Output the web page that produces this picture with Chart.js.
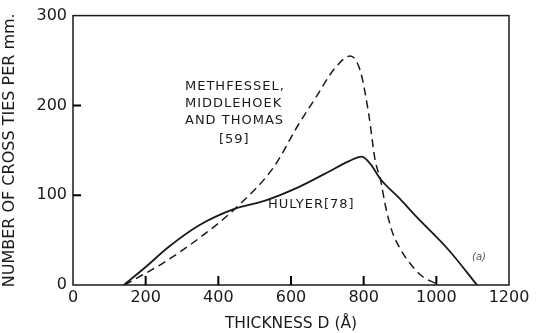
<!DOCTYPE html>
<html>
<head>
<meta charset="utf-8">
<script src="https://cdn.jsdelivr.net/npm/chart.js@4.4.1/dist/chart.umd.min.js"></script>
<style>
  html, body { margin: 0; padding: 0; background: #fff; }
  #wrap { width: 538px; height: 333px; }
</style>
</head>
<body>
<div id="wrap"><canvas id="chart" width="538" height="333"></canvas></div>
<script>
// Hulyer [78] (solid)
const hulyerX = [140, 200, 262, 345, 446, 529, 621, 694, 760, 795, 820, 846, 900, 943, 1034, 1112];
const hulyerY = [0, 20, 42, 66, 85, 94, 109, 124, 138, 143, 134, 118, 96, 77, 39, 0];

// Methfessel, Middlehoek and Thomas [59] (dashed)
const methX = [142, 250, 350, 446, 552, 621, 667, 722, 763, 791, 814, 832, 846, 860, 878, 901, 924, 960, 1008];
const methY = [0, 25, 53, 85, 131, 179, 208, 242, 255, 238, 190, 138, 118, 88, 60, 40, 26, 10, 0];

const xTicks = [0, 200, 400, 600, 800, 1000, 1200];
const yTicks = [0, 100, 200, 300];

const ink = '#1a1a1a';
const font = "'DejaVu Sans', sans-serif";

function toPoints(xs, ys) {
  return xs.map((x, i) => ({ x: x, y: ys[i] }));
}

// Frame, inward ticks and curve labels
const decor = {
  id: 'decor',
  afterDraw(chart) {
    const ctx = chart.ctx;
    const a = chart.chartArea;
    const xs = chart.scales.x;
    const ys = chart.scales.y;
    ctx.save();
    ctx.setLineDash([]);
    ctx.strokeStyle = ink;
    ctx.lineWidth = 1.5;
    ctx.strokeRect(a.left, a.top, a.right - a.left, a.bottom - a.top);

    // ticks pointing into the plot
    ctx.strokeStyle = '#000';
    ctx.lineWidth = 2;
    ctx.beginPath();
    for (let i = 1; i < xTicks.length - 1; i++) {
      const px = xs.getPixelForValue(xTicks[i]);
      ctx.moveTo(px, a.bottom);
      ctx.lineTo(px, a.bottom - 9);
    }
    for (let i = 1; i < yTicks.length - 1; i++) {
      const py = ys.getPixelForValue(yTicks[i]);
      ctx.moveTo(a.left, py);
      ctx.lineTo(a.left + 8, py);
    }
    ctx.stroke();

    // labels
    ctx.fillStyle = ink;
    ctx.font = "13px " + font;
    ctx.letterSpacing = '1px';
    ctx.textBaseline = 'middle';
    ctx.textAlign = 'left';
    ctx.fillText('METHFESSEL,', 185, 87);
    ctx.fillText('MIDDLEHOEK', 185, 104);
    ctx.fillText('AND THOMAS', 185, 121);
    ctx.fillText('[59]', 219, 140);
    ctx.fillText('HULYER[78]', 268, 205);
    ctx.font = "italic 10px " + font;
    ctx.letterSpacing = '0px';
    ctx.fillStyle = '#555';
    ctx.fillText('(a)', 472, 257);
    ctx.restore();
  }
};

new Chart(document.getElementById('chart'), {
  type: 'line',
  data: {
    datasets: [
      {
        label: 'Hulyer [78]',
        data: toPoints(hulyerX, hulyerY),
        borderColor: ink,
        borderWidth: 1.8,
        pointRadius: 0,
        cubicInterpolationMode: 'monotone',
        fill: false
      },
      {
        label: 'Methfessel, Middlehoek and Thomas [59]',
        data: toPoints(methX, methY),
        borderColor: ink,
        borderWidth: 1.5,
        borderDash: [8, 5],
        pointRadius: 0,
        cubicInterpolationMode: 'monotone',
        fill: false
      }
    ]
  },
  options: {
    responsive: false,
    animation: false,
    layout: { padding: { top: 12, right: 29, left: 0, bottom: 0 } },
    plugins: {
      legend: { display: false },
      tooltip: { enabled: false }
    },
    scales: {
      x: {
        type: 'linear',
        min: 0,
        max: 1200,
        afterBuildTicks: s => { s.ticks = xTicks.map(v => ({ value: v })); },
        afterFit: s => { s.height = 48; },
        grid: { display: false, drawTicks: false },
        border: { display: false },
        ticks: {
          color: ink,
          padding: 3,
          maxRotation: 0,
          font: { family: font, size: 16 },
          callback: v => String(v)
        },
        title: {
          display: true,
          text: 'THICKNESS D (Å)',
          color: ink,
          padding: { top: 0, bottom: 0 },
          font: { family: font, size: 15.5 }
        }
      },
      y: {
        min: 0,
        max: 300,
        afterBuildTicks: s => { s.ticks = yTicks.map(v => ({ value: v })); },
        afterFit: s => { s.width = 73; },
        grid: { display: false, drawTicks: false },
        border: { display: false },
        ticks: {
          color: ink,
          padding: 6,
          font: { family: font, size: 16 },
          callback: v => String(v)
        },
        title: {
          display: true,
          text: 'NUMBER OF CROSS TIES PER mm.',
          color: ink,
          padding: { top: 0, bottom: 0 },
          font: { family: font, size: 16 }
        }
      }
    }
  },
  plugins: [decor]
});
</script>
</body>
</html>
